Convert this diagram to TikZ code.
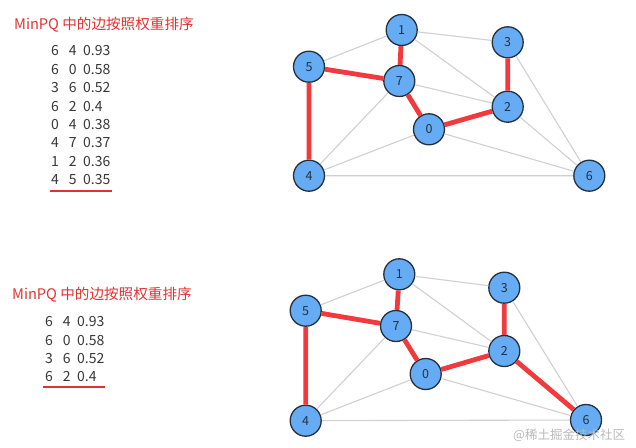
\documentclass[tikz,border=0pt]{standalone}
\usepackage{fontspec}
\setmainfont{Noto Sans CJK SC}
\usetikzlibrary{positioning}
\definecolor{titlered}{RGB}{225,50,50}
\definecolor{edgered}{RGB}{242,58,62}
\definecolor{nodeblue}{RGB}{102,172,245}
\definecolor{nodeedge}{RGB}{38,48,60}
\definecolor{edgegray}{RGB}{208,208,208}
\definecolor{textgray}{RGB}{55,55,55}
\definecolor{markgray}{RGB}{185,185,185}
\tikzset{
  vertex/.style={circle, draw=nodeedge, line width=1.3pt, fill=nodeblue,
    minimum size=31pt, inner sep=0pt, text=nodeedge,
    font=\fontsize{12.5}{12.5}\selectfont},
  light/.style={draw=edgegray, line width=1.1pt},
  tree/.style={draw=edgered, line width=4.8pt},
  title/.style={text=titlered, anchor=west, inner sep=0pt,
    font=\fontsize{14.6}{15}\selectfont},
  cell/.style={text=textgray, inner sep=0pt, font=\fontsize{14}{14}\selectfont},
  underline/.style={draw=titlered, line width=1.8pt}
}
\begin{document}
\begin{tikzpicture}[x=1pt,y=-1pt]
  \useasboundingbox (0,0) rectangle (636,447);
  % Upper panel: edge list
  \node[title] (titleA) at (14,25) {MinPQ 中的边按照权重排序};
  \foreach \a/\b/\w/\y [count=\i] in {6/4/0.93/50.7, 6/0/0.58/69.3, 3/6/0.52/88,
      6/2/0.4/106.3, 0/4/0.38/124.6, 4/7/0.37/142.9, 1/2/0.36/161.2, 4/5/0.35/179.5} {
    \node[cell] (ua\i) at (55,\y) {\a};
    \node[cell] (ub\i) at (72.7,\y) {\b};
    \node[cell, anchor=west] (uw\i) at (83,\y) {\w};
  }
  \coordinate (ulineL) at (50,191);
  \coordinate (ulineR) at (112,191);
  \draw[underline] (ulineL) -- (ulineR);
  % Upper panel: graph
  \node[vertex] (a1) at (401.7,30) {1};
  \node[vertex] (a3) at (507.7,42.3) {3};
  \node[vertex] (a5) at (309,66.7) {5};
  \node[vertex] (a7) at (399.3,81) {7};
  \node[vertex] (a2) at (507.7,106.7) {2};
  \node[vertex] (a0) at (429,129.3) {0};
  \node[vertex] (a4) at (309,175.7) {4};
  \node[vertex] (a6) at (589.3,175.7) {6};
  \draw[light] (a1) -- (a5) (a1) -- (a3) (a1) -- (a2) (a7) -- (a2) (a7) -- (a4)
    (a0) -- (a4) (a0) -- (a6) (a4) -- (a6) (a3) -- (a6) (a2) -- (a6);
  \draw[tree] (a1) -- (a7) (a5) -- (a7) (a5) -- (a4) (a7) -- (a0) (a0) -- (a2) (a3) -- (a2);
  % Lower panel: edge list
  \node[title] (titleB) at (12,295) {MinPQ 中的边按照权重排序};
  \foreach \a/\b/\w/\y [count=\i] in {6/4/0.93/321.7, 6/0/0.58/340.2, 3/6/0.52/358.7, 6/2/0.4/376.9} {
    \node[cell] (la\i) at (49,\y) {\a};
    \node[cell] (lb\i) at (66.7,\y) {\b};
    \node[cell, anchor=west] (lw\i) at (77,\y) {\w};
  }
  \coordinate (llineL) at (43,386.7);
  \coordinate (llineR) at (105,386.7);
  \draw[underline] (llineL) -- (llineR);
  % Lower panel: graph
  \node[vertex] (b1) at (399.3,274.3) {1};
  \node[vertex] (b3) at (504.3,287.7) {3};
  \node[vertex] (b5) at (305.7,310.7) {5};
  \node[vertex] (b7) at (396,326) {7};
  \node[vertex] (b2) at (504.3,351) {2};
  \node[vertex] (b0) at (425.7,374) {0};
  \node[vertex] (b4) at (305.7,420.7) {4};
  \node[vertex] (b6) at (586,420) {6};
  \draw[light] (b1) -- (b5) (b1) -- (b3) (b1) -- (b2) (b7) -- (b2) (b7) -- (b4)
    (b0) -- (b4) (b0) -- (b6) (b4) -- (b6) (b3) -- (b6);
  \draw[tree] (b1) -- (b7) (b5) -- (b7) (b5) -- (b4) (b7) -- (b0) (b0) -- (b2)
    (b3) -- (b2) (b2) -- (b6);
  % watermark
  \node[text=markgray, anchor=west, inner sep=0pt, font=\fontsize{12.5}{13}\selectfont]
    (stamp) at (513,435) {@稀土掘金技术社区};
\end{tikzpicture}
\end{document}
